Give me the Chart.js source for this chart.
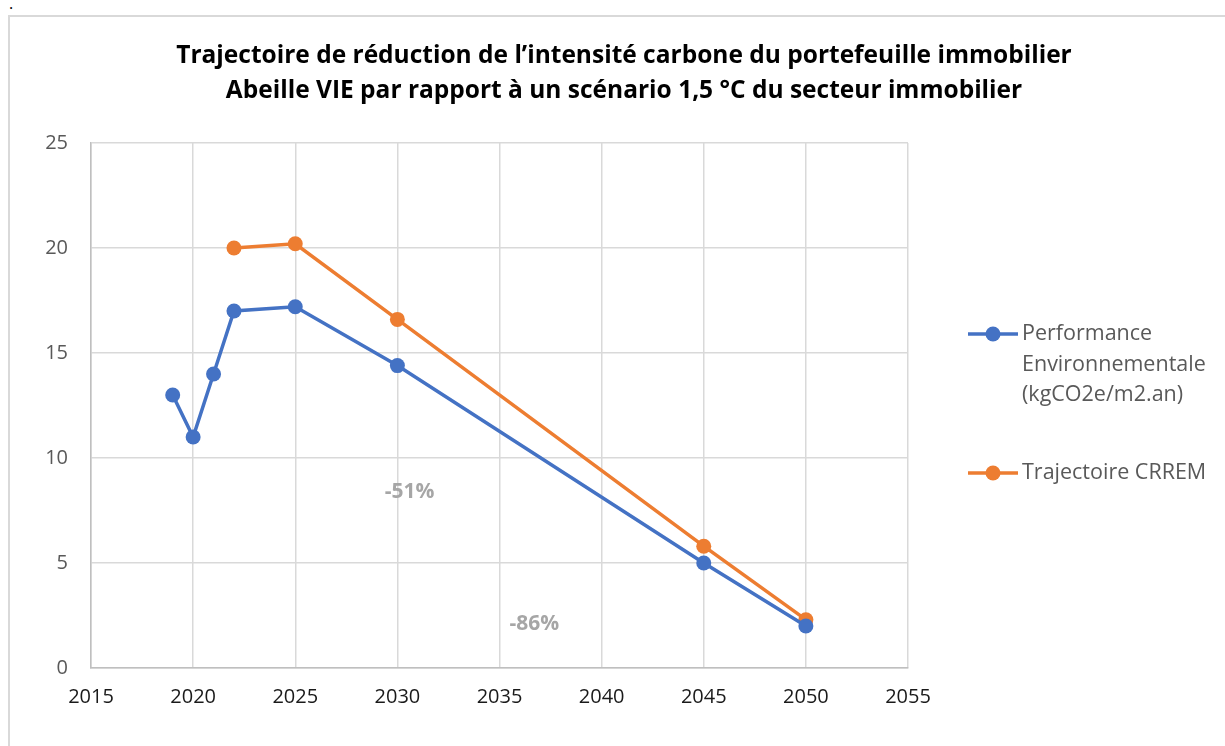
<!DOCTYPE html>
<html>
<head>
<meta charset="utf-8">
<script src="https://cdn.jsdelivr.net/npm/chart.js@4/dist/chart.umd.min.js"></script>
<style>
    html, body { margin: 0; padding: 0; background: #fff; overflow: hidden; }
    #frame {
        position: absolute; left: 8px; top: 15px;
        width: 1230px; height: 740px;
        border: 2px solid #d9d9d9; box-sizing: border-box;
    }
    #dot { position: absolute; left: 9px; top: -8px; font: 16px 'Open Sans', sans-serif; color: #000; }
    canvas { position: absolute; left: 0; top: 0; }
</style>
</head>
<body>
<span id="dot">.</span>
<div id="frame"></div>
<canvas id="chart" width="1225" height="746"></canvas>
<script>
// Chart data
const perfYears = [2019, 2020, 2021, 2022, 2025, 2030, 2045, 2050];
const perfValues = [13, 11, 14, 17, 17.2, 14.4, 5, 2];
const crremYears = [2022, 2025, 2030, 2045, 2050];
const crremValues = [20, 20.2, 16.6, 5.8, 2.3];

const seriesLabels = [
    ['Performance', 'Environnementale', '(kgCO2e/m2.an)'],
    ['Trajectoire CRREM']
];
const seriesColors = ['#4472C4', '#ED7D31'];

const titleLines = [
    'Trajectoire de réduction de l\u2019intensité carbone du portefeuille immobilier',
    'Abeille VIE par rapport à un scénario 1,5 °C du secteur immobilier'
];

// reduction labels placed in data units
const noteTexts = ['-51%', '-86%'];
const noteYears = [2030.6, 2036.7];
const noteValues = [8.4, 2.1];

const FONT = "'Open Sans', 'Noto Sans', sans-serif";

const toPoints = (xs, ys) => xs.map((x, i) => ({ x, y: ys[i] }));

// Title centred on the whole frame, not on the plot
const titlePlugin = {
    id: 'frameTitle',
    afterDraw(chart) {
        const { ctx } = chart;
        ctx.save();
        ctx.font = `bold 24.5px ${FONT}`;
        ctx.fillStyle = '#000';
        ctx.textAlign = 'center';
        ctx.textBaseline = 'middle';
        titleLines.forEach((t, i) => ctx.fillText(t, 624, 56 + i * 35));
        ctx.restore();
    }
};

// Draws the reduction percentages
const notesPlugin = {
    id: 'notes',
    afterDatasetsDraw(chart) {
        const { ctx, scales } = chart;
        ctx.save();
        ctx.font = `bold 21px ${FONT}`;
        ctx.fillStyle = '#a6a6a6';
        ctx.textAlign = 'center';
        ctx.textBaseline = 'middle';
        noteTexts.forEach((t, i) => {
            ctx.fillText(t, scales.x.getPixelForValue(noteYears[i]), scales.y.getPixelForValue(noteValues[i]));
        });
        ctx.restore();
    }
};

// Legend on the right with multi-line label
const sideLegend = {
    id: 'sideLegend',
    afterDraw(chart) {
        const { ctx, chartArea } = chart;
        const x0 = chartArea.right + 60;
        const rows = [334, 473];
        ctx.save();
        ctx.font = `21.5px ${FONT}`;
        ctx.textBaseline = 'middle';
        seriesLabels.forEach((lines, i) => {
            const y = rows[i];
            ctx.strokeStyle = seriesColors[i];
            ctx.lineWidth = 3.5;
            ctx.beginPath();
            ctx.moveTo(x0, y);
            ctx.lineTo(x0 + 50, y);
            ctx.stroke();
            ctx.fillStyle = seriesColors[i];
            ctx.beginPath();
            ctx.arc(x0 + 25, y, 7.5, 0, Math.PI * 2);
            ctx.fill();
            ctx.fillStyle = '#595959';
            lines.forEach((line, j) => ctx.fillText(line, x0 + 54, y + j * 30.5));
        });
        ctx.restore();
    }
};

const lineSet = (label, data, color) => ({
    label,
    data,
    borderColor: color,
    backgroundColor: color,
    borderWidth: 3.5,
    pointRadius: 7.5,
    pointHoverRadius: 7.5,
    pointBorderWidth: 0,
    tension: 0
});

new Chart(document.getElementById('chart').getContext('2d'), {
    type: 'line',
    data: {
        datasets: [
            lineSet(seriesLabels[0].join(' '), toPoints(perfYears, perfValues), seriesColors[0]),
            lineSet(seriesLabels[1].join(' '), toPoints(crremYears, crremValues), seriesColors[1])
        ]
    },
    options: {
        responsive: false,
        animation: false,
        layout: { padding: { left: 20, right: 317, top: 143, bottom: 28 } },
        plugins: {
            legend: { display: false },
            tooltip: { enabled: false },
            title: { display: false }
        },
        scales: {
            x: {
                type: 'linear',
                min: 2015,
                max: 2055,
                ticks: {
                    stepSize: 5,
                    color: '#1a1a1a',
                    font: { family: FONT, size: 20 },
                    padding: 17,
                    callback: v => String(v)
                },
                grid: { color: '#d9d9d9', lineWidth: 1.5, drawTicks: false },
                border: { color: '#bfbfbf', width: 1.5 },
                afterFit: s => { s.height = 50; }
            },
            y: {
                min: 0,
                max: 25,
                ticks: {
                    stepSize: 5,
                    color: '#595959',
                    font: { family: FONT, size: 20 },
                    padding: 23
                },
                grid: { color: '#d9d9d9', lineWidth: 1.5, drawTicks: false },
                border: { color: '#bfbfbf', width: 1.5 },
                afterFit: s => { s.width = 71; }
            }
        }
    },
    plugins: [titlePlugin, notesPlugin, sideLegend]
});
</script>
</body>
</html>
